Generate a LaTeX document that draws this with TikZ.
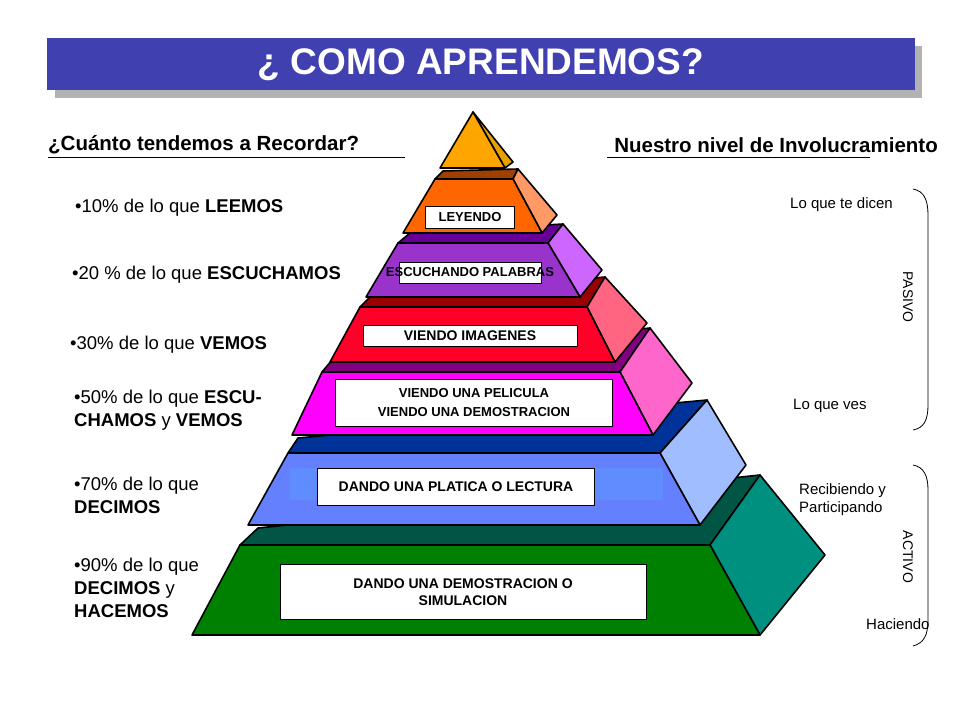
\documentclass[tikz,border=0pt]{standalone}
\usepackage{fontspec}
\setmainfont{Liberation Sans}
\begin{document}
\begin{tikzpicture}[x=1pt,y=-1pt,
  face/.style={draw=black,line width=1.6pt,line join=round},
  lbl/.style={draw=black,fill=white,line width=0.6pt,inner sep=0pt,font=\fontsize{14}{17}\selectfont\bfseries,align=center},
  bul/.style={anchor=west,inner sep=0pt,font=\fontsize{18.5}{23}\selectfont,align=left},
  side/.style={anchor=west,inner sep=0pt,font=\fontsize{15}{18}\selectfont,align=left}]
\useasboundingbox (0,0) rectangle (960,720);
\fill[white] (0,0) rectangle (960,720);
% title
\fill[gray!60] (55,46) rectangle (922,98);
\fill[fill={rgb,255:red,64;green,64;blue,176}] (47,38) rectangle (915,90);
\node[text=white,font=\fontsize{37}{42}\selectfont\bfseries] (title) at (481,65) {¿ COMO APRENDEMOS?};
% headings
\node[anchor=west,inner sep=0pt,font=\fontsize{20.5}{24}\selectfont\bfseries] (hl) at (48,145) {¿Cuánto tendemos a Recordar?};
\draw[line width=0.8pt] (48,157) -- (405,157);
\node[anchor=east,inner sep=0pt,font=\fontsize{20.5}{24}\selectfont\bfseries] (hr) at (938,145) {Nuestro nivel de Involucramiento};
\draw[line width=0.8pt] (607,157) -- (870,157);
% layer 6 green
\draw[face,fill={rgb,255:red,0;green,85;blue,68}] (240,545) -- (258,528) -- (760,475) -- (710,545) -- cycle;
\draw[face,fill={rgb,255:red,0;green,144;blue,128}] (710,545) -- (760,475) -- (825,555) -- (760,635) -- cycle;
\draw[face,fill={rgb,255:red,0;green,128;blue,0}] (240,545) -- (710,545) -- (760,635) -- (192,635) -- cycle;
\node[lbl,minimum width=366pt,minimum height=55pt] (l6) at (463,592) {DANDO UNA DEMOSTRACION O\\SIMULACION};
% layer 5 blue
\draw[face,fill={rgb,255:red,0;green,51;blue,153}] (288,453) -- (298,438) -- (707,400) -- (660,453) -- cycle;
\draw[face,fill={rgb,255:red,160;green,190;blue,255}] (660,453) -- (707,400) -- (746,465) -- (700,525) -- cycle;
\draw[face,fill={rgb,255:red,100;green,128;blue,255}] (288,453) -- (660,453) -- (700,525) -- (248,525) -- cycle;
\fill[fill={rgb,255:red,95;green,140;blue,255}] (290,468) rectangle (663,500);
\node[lbl,minimum width=277pt,minimum height=37pt] (l5) at (456,487) {DANDO UNA PLATICA O LECTURA};
% layer 4 magenta
\draw[face,fill={rgb,255:red,128;green,0;blue,128}] (322,372) -- (332,360) -- (650,328) -- (620,372) -- cycle;
\draw[face,fill={rgb,255:red,255;green,102;blue,204}] (620,372) -- (650,328) -- (692,383) -- (653,435) -- cycle;
\draw[face,fill={rgb,255:red,255;green,0;blue,255}] (322,372) -- (620,372) -- (653,435) -- (292,435) -- cycle;
\node[lbl,minimum width=277pt,minimum height=47pt,font=\fontsize{13}{19}\selectfont\bfseries] (l4) at (474,403) {VIENDO UNA PELICULA\\VIENDO UNA DEMOSTRACION};
% layer 3 red
\draw[face,fill={rgb,255:red,153;green,0;blue,0}] (360,307) -- (370,297) -- (605,277) -- (587,307) -- cycle;
\draw[face,fill={rgb,255:red,255;green,100;blue,128}] (587,307) -- (605,277) -- (647,323) -- (615,362) -- cycle;
\draw[face,fill={rgb,255:red,255;green,0;blue,40}] (360,307) -- (587,307) -- (615,362) -- (330,362) -- cycle;
\node[lbl,minimum width=214pt,minimum height=21pt] (l3) at (470,336) {VIENDO IMAGENES};
% layer 2 purple
\draw[face,fill={rgb,255:red,102;green,0;blue,153}] (398,243) -- (410,233) -- (563,224) -- (548,243) -- cycle;
\draw[face,fill={rgb,255:red,204;green,102;blue,255}] (548,243) -- (563,224) -- (602,270) -- (580,297) -- cycle;
\draw[face,fill={rgb,255:red,153;green,51;blue,204}] (398,243) -- (548,243) -- (580,297) -- (366,297) -- cycle;
\draw[fill=white,line width=0.6pt] (399,262) rectangle (541,283);
\node[inner sep=0pt,font=\fontsize{13}{15}\selectfont\bfseries] (l2) at (470,272) {ESCUCHANDO PALABRAS};
% layer 1 orange
\draw[face,fill={rgb,255:red,160;green,64;blue,0}] (435,179) -- (443,171) -- (518,169) -- (513,179) -- cycle;
\draw[face,fill={rgb,255:red,255;green,153;blue,102}] (513,179) -- (518,169) -- (557,215) -- (542,233) -- cycle;
\draw[face,fill={rgb,255:red,255;green,102;blue,0}] (435,179) -- (513,179) -- (542,233) -- (403,233) -- cycle;
\node[lbl,minimum width=89pt,minimum height=22pt,font=\fontsize{13}{15}\selectfont\bfseries] (l1) at (470,217) {LEYENDO};
% top
\draw[face,fill={rgb,255:red,230;green,160;blue,0}] (473,112) -- (513,162) -- (505,168) -- cycle;
\draw[face,fill={rgb,255:red,255;green,165;blue,0}] (473,112) -- (505,168) -- (440,168) -- cycle;
% bullets
\node[bul] (b1) at (75,208) {•10\% de lo que \textbf{LEEMOS}};
\node[bul] (b2) at (72,275) {•20 \% de lo que \textbf{ESCUCHAMOS}};
\node[bul] (b3) at (70,345) {•30\% de lo que \textbf{VEMOS}};
\node[bul] (b4) at (74,410) {•50\% de lo que \textbf{ESCU-}\\\textbf{CHAMOS} y \textbf{VEMOS}};
\node[bul] (b5) at (74,495) {•70\% de lo que\\ \textbf{DECIMOS}};
\node[bul] (b6) at (74,588) {•90\% de lo que\\ \textbf{DECIMOS} y\\\textbf{HACEMOS}};
% right side
\node[side] (s1) at (790,205) {Lo que te dicen};
\node[side] (s2) at (793,406) {Lo que ves};
\node[side,font=\fontsize{15}{18}\selectfont] (s3) at (799,500) {Recibiendo y\\Participando};
\node[side] (s4) at (866,624) {Haciendo};
\node[font=\fontsize{14}{16}\selectfont,rotate=-90] (pas) at (908,297) {PASIVO};
\node[font=\fontsize{14}{16}\selectfont,rotate=-90] (act) at (908,557) {ACTIVO};
\draw[line width=0.8pt] (913,189) .. controls (924,191) and (928,200) .. (928,215) -- (928,405) .. controls (928,420) and (924,428) .. (913,430);
\draw[line width=0.8pt] (913,465) .. controls (924,467) and (928,476) .. (928,490) -- (928,620) .. controls (928,635) and (924,643) .. (913,646);
\end{tikzpicture}
\end{document}
